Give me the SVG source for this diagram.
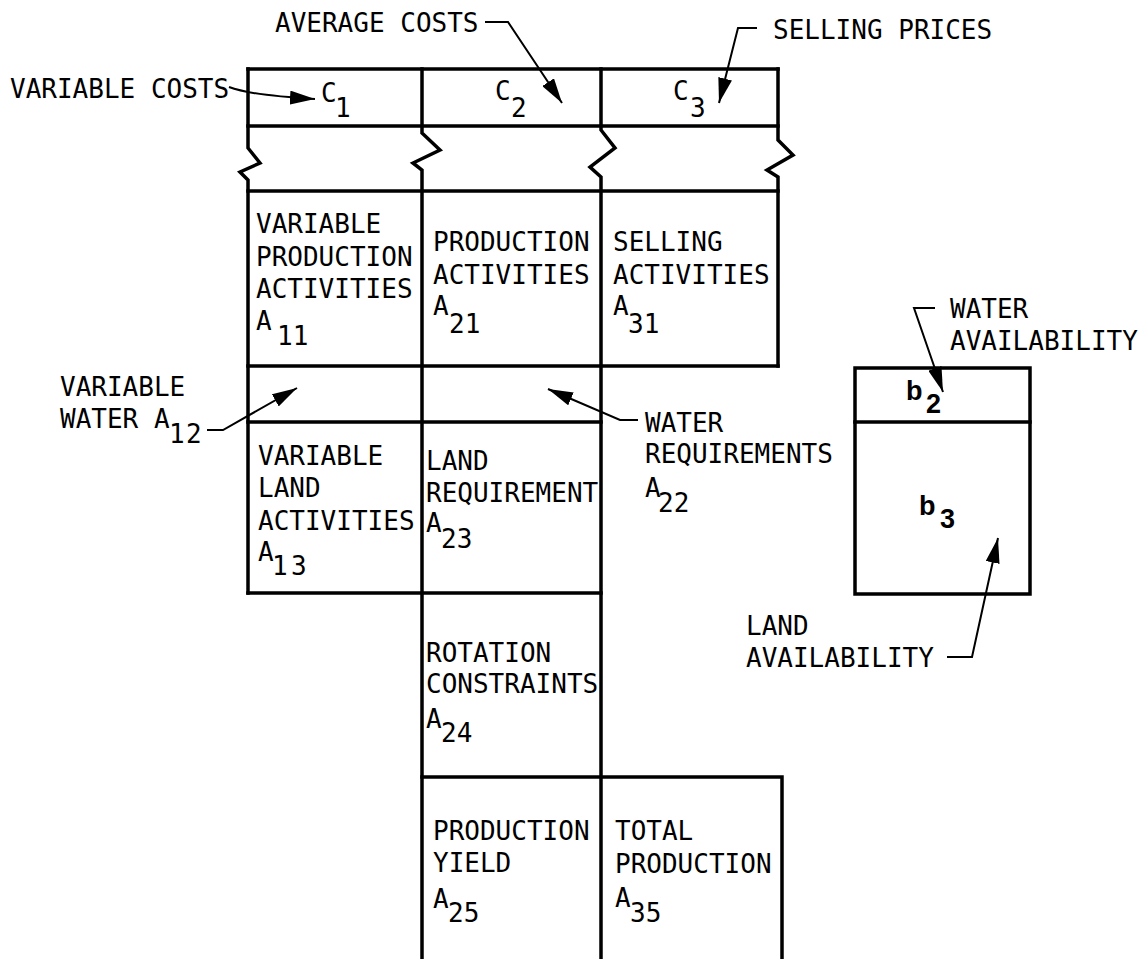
<svg xmlns="http://www.w3.org/2000/svg" width="1139" height="959" viewBox="0 0 1139 959">
<style>
.g{fill:none;stroke:#000;stroke-width:3.5;stroke-linejoin:miter;stroke-linecap:square}
.l{fill:none;stroke:#000;stroke-width:2}
text{font-family:"DejaVu Sans Mono","Liberation Mono",monospace;font-size:26px;fill:#000}
.b{font-family:"Liberation Sans",Arial,sans-serif;font-weight:bold;font-size:27px}
</style>
<defs>
<marker id="ah" markerUnits="userSpaceOnUse" markerWidth="26" markerHeight="14" refX="25" refY="7" orient="auto">
<path d="M0,0 L25,7 L0,14 z" fill="#000"/>
</marker>
</defs>
<rect width="1139" height="959" fill="#fff"/>
<g id="grid">
<path class="g" d="M248,69 H778 M248,126 H778 M248,191 H778"/>
<path class="g" d="M248,69 V148 L260,163 L240,172 L248,180 V593"/>
<path class="g" d="M422,69 V133 L440,150 L413,163 L422,170 V959"/>
<path class="g" d="M601,69 V130 L615,148 L590,167 L601,177 V959"/>
<path class="g" d="M778,69 V140 L793,155 L767,170 L778,177 V366"/>
<path class="g" d="M248,366 H778 M248,422 H601 M248,593 H601"/>
<path class="g" d="M422,777 H782 V959"/>
</g>
<g id="c1"><text x="321" y="102">C</text><text x="335" y="117">1</text></g>
<g id="c2"><text x="495" y="100">C</text><text x="511" y="117">2</text></g>
<g id="c3"><text x="673" y="100">C</text><text x="690" y="117">3</text></g>
<g id="a11"><text x="256" y="233">VARIABLE</text><text x="256" y="266">PRODUCTION</text><text x="256" y="298">ACTIVITIES</text><text x="256" y="330">A</text><text x="277" y="345">11</text></g>
<g id="a21"><text x="433" y="251">PRODUCTION</text><text x="433" y="284">ACTIVITIES</text><text x="433" y="315">A</text><text x="449" y="333">21</text></g>
<g id="a31"><text x="613" y="251">SELLING</text><text x="613" y="284">ACTIVITIES</text><text x="613" y="315">A</text><text x="628" y="333">31</text></g>
<g id="a13"><text x="258" y="465">VARIABLE</text><text x="258" y="497">LAND</text><text x="258" y="530">ACTIVITIES</text><text x="258" y="561">A</text><text x="272" y="575">1</text><text x="291" y="575">3</text></g>
<g id="a23"><text x="426" y="470">LAND</text><text x="426" y="502">REQUIREMENT</text><text x="426" y="532">A</text><text x="441" y="548">23</text></g>
<g id="a24"><text x="426" y="662">ROTATION</text><text x="426" y="693">CONSTRAINTS</text><text x="426" y="728">A</text><text x="441" y="742">24</text></g>
<g id="a25"><text x="433" y="840">PRODUCTION</text><text x="433" y="872">YIELD</text><text x="433" y="908">A</text><text x="448" y="922">25</text></g>
<g id="a35"><text x="615" y="840">TOTAL</text><text x="615" y="873">PRODUCTION</text><text x="615" y="907">A</text><text x="630" y="922">35</text></g>
<g id="bbox">
<rect class="g" x="855" y="368" width="175" height="226"/>
<path class="g" d="M855,422 H1030"/>
<text class="b" x="906" y="400">b</text><text class="b" x="926" y="413">2</text>
<text class="b" x="919" y="515">b</text><text class="b" x="940" y="528">3</text>
</g>
<g id="labels">
<text x="275" y="32">AVERAGE COSTS</text>
<text x="773" y="39">SELLING PRICES</text>
<text x="10" y="98">VARIABLE COSTS</text>
<text x="60" y="396">VARIABLE</text>
<text x="60" y="428">WATER A</text><text x="169" y="443">1</text><text x="186" y="443">2</text>
<text x="645" y="432">WATER</text><text x="645" y="463">REQUIREMENTS</text><text x="645" y="497">A</text><text x="658" y="512">22</text>
<text x="950" y="318">WATER</text><text x="950" y="350">AVAILABILITY</text>
<text x="746" y="635">LAND</text><text x="746" y="667">AVAILABILITY</text>
</g>
<g id="connectors">
<path class="l" d="M485,22 H508 L562,103" marker-end="url(#ah)"/>
<path class="l" d="M757,28 H738 L719,103" marker-end="url(#ah)"/>
<path class="l" d="M229,87 C242,92 262,96 315,99" marker-end="url(#ah)"/>
<path class="l" d="M207,430 H223 L297,388" marker-end="url(#ah)"/>
<path class="l" d="M638,420 H620 L548,389" marker-end="url(#ah)"/>
<path class="l" d="M935,308 H914 L943,392" marker-end="url(#ah)"/>
<path class="l" d="M947,657 H972 L998,538" marker-end="url(#ah)"/>
</g>
</svg>
